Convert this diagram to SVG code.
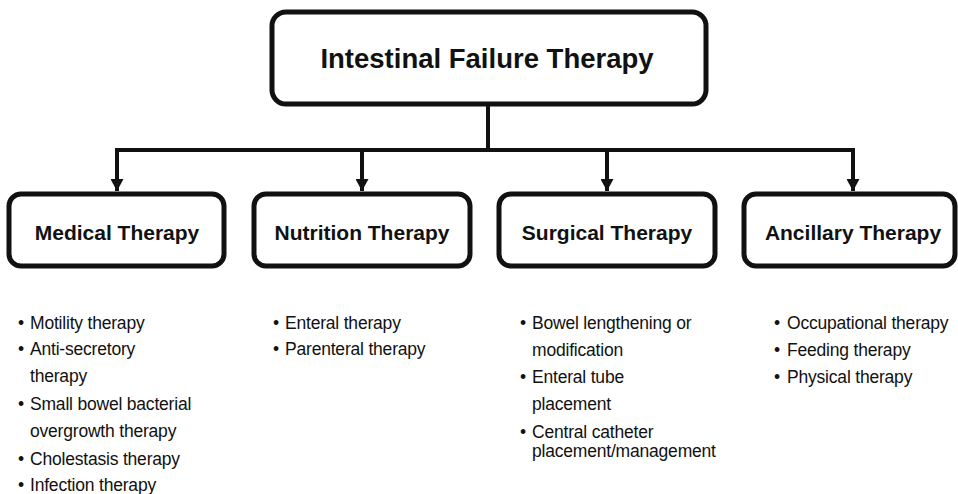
<svg xmlns="http://www.w3.org/2000/svg" width="958" height="494" viewBox="0 0 958 494">
<style>
.box{fill:#fff;stroke:#111;stroke-width:5}
.title{font-family:"Liberation Sans",Arial,sans-serif;font-weight:bold;font-size:27.5px;fill:#111;text-anchor:middle}
.head{font-family:"Liberation Sans",Arial,sans-serif;font-weight:bold;font-size:21px;fill:#111;text-anchor:middle}
.item{font-family:"Liberation Sans",Arial,sans-serif;font-size:17.5px;fill:#111;letter-spacing:-0.2px}
.conn{fill:none;stroke:#111;stroke-width:4}
</style>
<defs>
<marker id="arr" markerWidth="14" markerHeight="13" refX="12" refY="6.5" orient="auto" markerUnits="userSpaceOnUse">
<path d="M0,0 L12,6.5 L0,13 Z" fill="#111"/>
</marker>
</defs>
<rect width="958" height="494" fill="#fff"/>
<g id="connectors">
<path class="conn" d="M488,104 V150"/>
<path class="conn" d="M117,150 H853"/>
<path class="conn" d="M117,148 V191" marker-end="url(#arr)"/>
<path class="conn" d="M362,150 V191" marker-end="url(#arr)"/>
<path class="conn" d="M607,150 V191" marker-end="url(#arr)"/>
<path class="conn" d="M853,148 V191" marker-end="url(#arr)"/>
</g>
<g id="root">
<rect class="box" x="272" y="12" width="434" height="92" rx="14"/>
<text class="title" x="487" y="68">Intestinal Failure Therapy</text>
</g>
<g id="medical">
<rect class="box" x="9" y="194" width="215" height="72" rx="12"/>
<text class="head" x="117" y="240">Medical Therapy</text>
</g>
<g id="nutrition">
<rect class="box" x="254" y="194" width="216" height="72" rx="12"/>
<text class="head" x="362" y="240">Nutrition Therapy</text>
</g>
<g id="surgical">
<rect class="box" x="499" y="194" width="216" height="72" rx="12"/>
<text class="head" x="607" y="240">Surgical Therapy</text>
</g>
<g id="ancillary">
<rect class="box" x="744" y="194" width="211" height="72" rx="12"/>
<text class="head" x="853" y="240">Ancillary Therapy</text>
</g>
<g id="medical-list" class="item">
<text x="18" y="329">•</text><text x="30" y="329">Motility therapy</text>
<text x="18" y="355">•</text><text x="30" y="355">Anti-secretory</text>
<text x="30" y="382">therapy</text>
<text x="18" y="410">•</text><text x="30" y="410">Small bowel bacterial</text>
<text x="30" y="437">overgrowth therapy</text>
<text x="18" y="465">•</text><text x="30" y="465">Cholestasis therapy</text>
<text x="18" y="491">•</text><text x="30" y="491">Infection therapy</text>
</g>
<g id="nutrition-list" class="item">
<text x="273" y="329">•</text><text x="285" y="329">Enteral therapy</text>
<text x="273" y="355">•</text><text x="285" y="355">Parenteral therapy</text>
</g>
<g id="surgical-list" class="item">
<text x="520" y="329">•</text><text x="532" y="329">Bowel lengthening or</text>
<text x="532" y="356">modification</text>
<text x="520" y="383">•</text><text x="532" y="383">Enteral tube</text>
<text x="532" y="410">placement</text>
<text x="520" y="438">•</text><text x="532" y="438">Central catheter</text>
<text x="532" y="457">placement/management</text>
</g>
<g id="ancillary-list" class="item">
<text x="774" y="329">•</text><text x="787" y="329">Occupational therapy</text>
<text x="774" y="356">•</text><text x="787" y="356">Feeding therapy</text>
<text x="774" y="383">•</text><text x="787" y="383">Physical therapy</text>
</g>
</svg>
